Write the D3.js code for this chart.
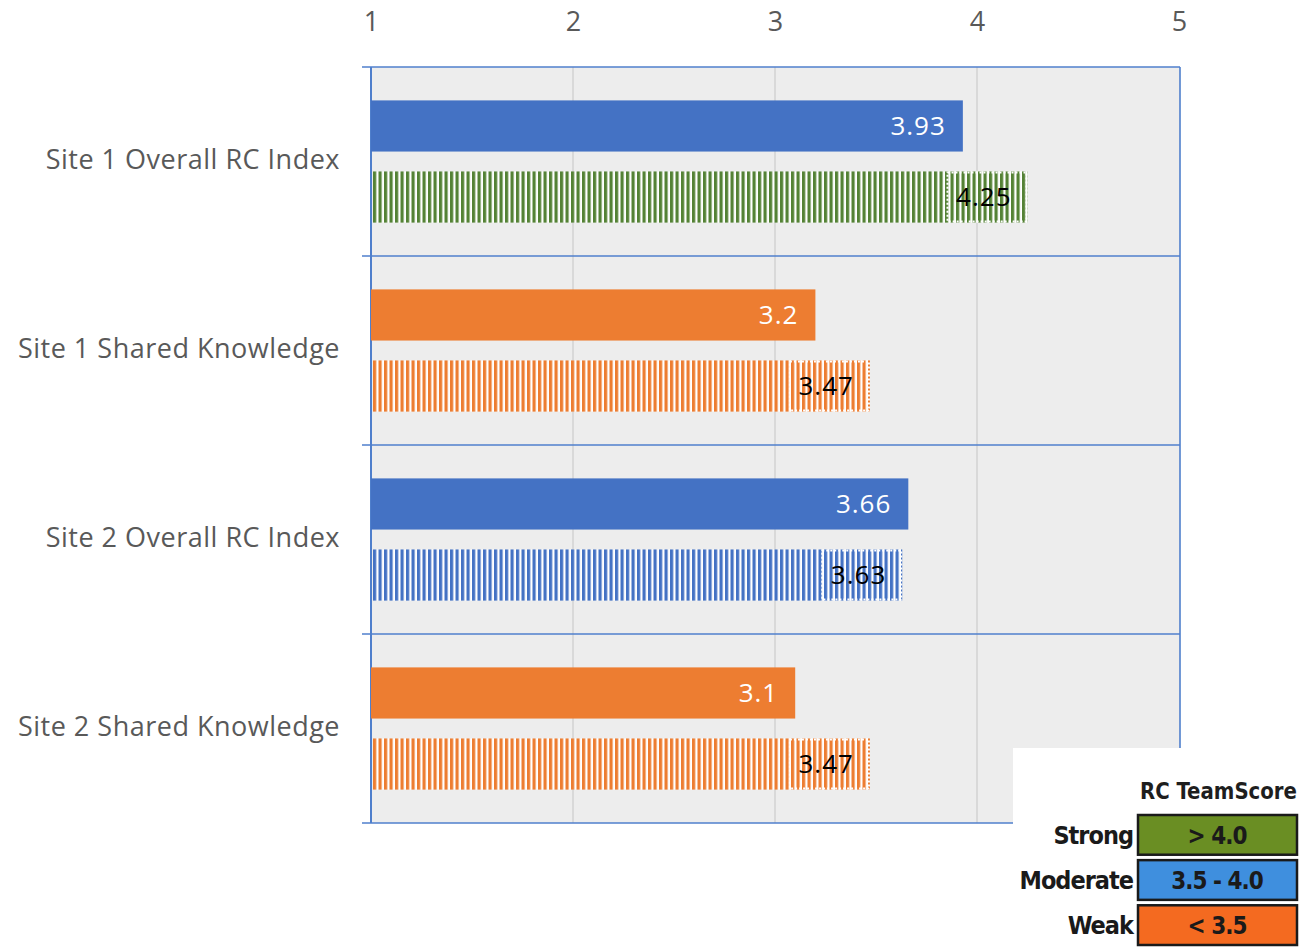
<!DOCTYPE html>
<html>
<head>
<meta charset="utf-8">
<script src="https://cdn.jsdelivr.net/npm/d3@7"></script>
<style>
  body { margin: 0; background: #fff; }
  svg { display: block; }
</style>
</head>
<body>
<div id="chart"></div>
<script>
// chart data
var categories = ["Site 1 Overall RC Index", "Site 1 Shared Knowledge", "Site 2 Overall RC Index", "Site 2 Shared Knowledge"];
var solidValues = [3.93, 3.2, 3.66, 3.1];
var hatchedValues = [4.25, 3.47, 3.63, 3.47];
var solidColors = ["#4472C4", "#ED7D31", "#4472C4", "#ED7D31"];
var hatchedColors = ["#548235", "#ED7D31", "#4472C4", "#ED7D31"];
var tickValues = [1, 2, 3, 4, 5];

// legend data
var legendTitle = "RC TeamScore";
var legendNames = ["Strong", "Moderate", "Weak"];
var legendRanges = ["> 4.0", "3.5 - 4.0", "< 3.5"];
var legendColors = ["#6a8e23", "#3f8fde", "#f46a20"];

var W = 1314, H = 950;
var plotL = 371, plotR = 1180, plotT = 67, plotB = 823;
var lineBlue = "#4f7fcc";
var font = "'Open Sans', 'Noto Sans', sans-serif";

var svg = d3.select("#chart").append("svg")
    .attr("width", W).attr("height", H);

var x = d3.scaleLinear().domain([1, 5]).range([plotL, plotL + 4 * 202]);
var y = d3.scaleBand().domain(categories).range([plotT, plotB]);
var sub = d3.scaleBand().domain(["solid", "hatched"]).range([0, y.bandwidth()])
    .paddingInner(0.28).paddingOuter(0.47);

// patterns for the hatched bars
var defs = svg.append("defs");
hatchedColors.forEach(function (c, i) {
  var p = defs.append("pattern")
      .attr("id", "hatch" + i)
      .attr("patternUnits", "userSpaceOnUse")
      .attr("x", plotL + 2)
      .attr("width", 5.5).attr("height", 10);
  p.append("rect").attr("width", 5.5).attr("height", 10).attr("fill", "#fff");
  p.append("rect").attr("width", 3.2).attr("height", 10).attr("fill", c);
});

// plot background
svg.append("rect")
    .attr("x", plotL).attr("y", plotT)
    .attr("width", plotR - plotL).attr("height", plotB - plotT)
    .attr("fill", "#ededed");

// vertical grid
svg.append("g").selectAll("line")
  .data(tickValues.slice(1, -1))
  .join("line")
    .attr("x1", d => x(d)).attr("x2", d => x(d))
    .attr("y1", plotT).attr("y2", plotB)
    .attr("stroke", "#d9d9d9").attr("stroke-width", 2);

// top axis labels
var xAxis = svg.append("g")
    .attr("transform", "translate(0," + plotT + ")")
    .call(d3.axisTop(x).tickValues(tickValues).tickSize(0).tickPadding(36).tickFormat(d3.format("d")));
xAxis.select(".domain").remove();
xAxis.selectAll("text")
    .attr("font-family", font)
    .attr("font-size", 27).attr("fill", "#595959");

// band lines
svg.append("g").selectAll("line")
  .data(categories.map(c => y(c)).concat([plotB]))
  .join("line")
    .attr("x1", plotL - 9).attr("x2", plotR)
    .attr("y1", d => d).attr("y2", d => d)
    .attr("stroke", lineBlue).attr("stroke-width", 1.6);

svg.append("line")
    .attr("x1", plotL).attr("x2", plotL).attr("y1", plotT).attr("y2", plotB)
    .attr("stroke", lineBlue).attr("stroke-width", 2);
svg.append("line")
    .attr("x1", plotR).attr("x2", plotR).attr("y1", plotT).attr("y2", plotB)
    .attr("stroke", lineBlue).attr("stroke-width", 1.6);

// category labels
svg.append("g").selectAll("text")
  .data(categories)
  .join("text")
    .attr("x", 340)
    .attr("y", d => y(d) + y.bandwidth() / 2 - 2)
    .attr("dy", "0.35em")
    .attr("text-anchor", "end")
    .attr("font-family", font)
    .attr("font-size", 27).attr("letter-spacing", 0.5).attr("fill", "#595959")
    .text(d => d);

// solid bars
var bars = svg.append("g");
bars.selectAll("rect.solid")
  .data(categories)
  .join("rect")
    .attr("class", "solid")
    .attr("x", x(1))
    .attr("y", d => y(d) + sub("solid"))
    .attr("width", (d, i) => x(solidValues[i]) - x(1))
    .attr("height", sub.bandwidth())
    .attr("fill", (d, i) => solidColors[i]);

bars.selectAll("text.solid")
  .data(categories)
  .join("text")
    .attr("class", "solid")
    .attr("x", (d, i) => x(solidValues[i]) - 17)
    .attr("y", d => y(d) + sub("solid") + sub.bandwidth() / 2)
    .attr("dy", "0.35em")
    .attr("text-anchor", "end")
    .attr("font-family", font)
    .attr("font-size", 26).attr("letter-spacing", 1).attr("fill", "#fff")
    .text((d, i) => solidValues[i]);

// hatched bars
bars.selectAll("rect.hatched")
  .data(categories)
  .join("rect")
    .attr("class", "hatched")
    .attr("x", x(1) + 2)
    .attr("y", d => y(d) + sub("hatched"))
    .attr("width", (d, i) => x(hatchedValues[i]) - x(1) - 2)
    .attr("height", sub.bandwidth())
    .attr("fill", (d, i) => "url(#hatch" + i + ")");

// dashed label boxes on the hatched bars
bars.selectAll("rect.lbl")
  .data(categories)
  .join("rect")
    .attr("class", "lbl")
    .attr("x", (d, i) => x(hatchedValues[i]) - 80)
    .attr("y", d => y(d) + sub("hatched") + 1)
    .attr("width", 79)
    .attr("height", sub.bandwidth() - 2)
    .attr("fill", "none")
    .attr("stroke", "#fff").attr("stroke-width", 2)
    .attr("stroke-dasharray", "2,2");

bars.selectAll("text.hatched")
  .data(categories)
  .join("text")
    .attr("class", "hatched")
    .attr("x", (d, i) => x(hatchedValues[i]) - 16)
    .attr("y", d => y(d) + sub("hatched") + sub.bandwidth() / 2)
    .attr("dy", "0.35em")
    .attr("text-anchor", "end")
    .attr("font-family", font)
    .attr("font-size", 26).attr("letter-spacing", 1).attr("fill", "#000")
    .text((d, i) => hatchedValues[i]);

// legend (pasted image in the original)
var lg = svg.append("g");
lg.append("rect")
    .attr("x", 1013).attr("y", 748)
    .attr("width", W - 1013).attr("height", H - 748)
    .attr("fill", "#fff");

var legendFont = "'DejaVu Sans Condensed', 'Liberation Sans Narrow', sans-serif";
lg.append("text")
    .attr("x", 1297).attr("y", 799)
    .attr("text-anchor", "end")
    .attr("font-family", legendFont).attr("font-weight", "bold")
    .attr("font-stretch", "condensed")
    .attr("font-size", 23).attr("fill", "#1e1e1e")
    .attr("textLength", 157).attr("lengthAdjust", "spacingAndGlyphs")
    .text(legendTitle);

var ly = d3.scaleBand().domain(legendNames).range([815, 945]).paddingInner(0.12);
lg.selectAll("rect.box")
  .data(legendNames)
  .join("rect")
    .attr("class", "box")
    .attr("x", 1138).attr("y", d => ly(d))
    .attr("width", 159).attr("height", ly.bandwidth())
    .attr("fill", (d, i) => legendColors[i])
    .attr("stroke", "#1a1a1a").attr("stroke-width", 2.5);

lg.selectAll("text.range")
  .data(legendNames)
  .join("text")
    .attr("class", "range")
    .attr("x", 1217).attr("y", d => ly(d) + ly.bandwidth() / 2)
    .attr("dy", "0.36em")
    .attr("text-anchor", "middle")
    .attr("font-family", legendFont).attr("font-weight", "bold")
    .attr("font-stretch", "condensed")
    .attr("font-size", 24).attr("fill", "#1a1a1a")
    .attr("letter-spacing", -1)
    .text((d, i) => legendRanges[i]);

lg.selectAll("text.name")
  .data(legendNames)
  .join("text")
    .attr("class", "name")
    .attr("x", 1133).attr("y", d => ly(d) + ly.bandwidth() / 2)
    .attr("dy", "0.36em")
    .attr("text-anchor", "end")
    .attr("font-family", legendFont).attr("font-weight", "bold")
    .attr("font-stretch", "condensed")
    .attr("font-size", 25).attr("fill", "#1a1a1a")
    .attr("letter-spacing", -1)
    .text(d => d);
</script>
</body>
</html>
